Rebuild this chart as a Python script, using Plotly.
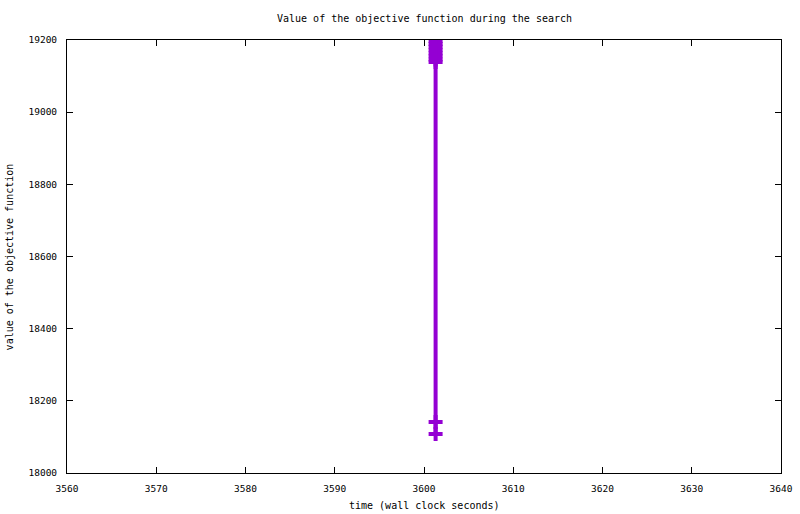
import plotly.graph_objects as go

time_s = [3601.3] * 11
objective = [19215, 19197, 19189, 19181, 19172, 19163, 19155, 19146, 19139, 18141, 18108]

x_ticks = [3560, 3570, 3580, 3590, 3600, 3610, 3620, 3630, 3640]
y_ticks = [18000, 18200, 18400, 18600, 18800, 19000, 19200]

FONT = "DejaVu Sans Mono"
COLOR = "#9400D3"

fig = go.Figure()
fig.add_trace(go.Scatter(
    x=time_s, y=objective, mode="lines+markers",
    line=dict(color=COLOR, width=4),
    marker=dict(symbol="cross-thin", size=10, color=COLOR,
                line=dict(color=COLOR, width=4)),
    cliponaxis=True, showlegend=False, hoverinfo="skip",
))

axis_common = dict(
    showgrid=False, zeroline=False, showline=True, linecolor="black",
    linewidth=1, mirror="allticks", ticks="inside", ticklen=6,
    tickcolor="black", tickwidth=1, automargin=False,
    tickfont=dict(family=FONT, size=9.5, color="black"),
)

fig.update_layout(
    width=800, height=514,
    margin=dict(l=67, r=19, t=40, b=41),
    plot_bgcolor="white", paper_bgcolor="white",
    xaxis=dict(range=[3560, 3640], tickvals=x_ticks,
               ticktext=[str(v) for v in x_ticks], ticklabelstandoff=7,
               **axis_common),
    yaxis=dict(range=[18000, 19200], tickvals=y_ticks,
               ticktext=[str(v) for v in y_ticks], ticklabelstandoff=7,
               **axis_common),
    annotations=[
        dict(text="Value of the objective function during the search",
             xref="paper", yref="paper", x=0.5, y=1.0485,
             xanchor="center", yanchor="middle", showarrow=False,
             font=dict(family=FONT, size=10, color="black")),
        dict(text="time (wall clock seconds)",
             xref="paper", yref="paper", x=0.5, y=-0.074,
             xanchor="center", yanchor="middle", showarrow=False,
             font=dict(family=FONT, size=10, color="black")),
        dict(text="value of the objective function",
             xref="paper", yref="paper", x=-0.08, y=0.5, textangle=-90,
             xanchor="center", yanchor="middle", showarrow=False,
             font=dict(family=FONT, size=10, color="black")),
    ],
)

fig.write_html("out.html", config={"displayModeBar": False},
               post_script="document.body.style.margin='0px';document.body.style.overflow='hidden';")
